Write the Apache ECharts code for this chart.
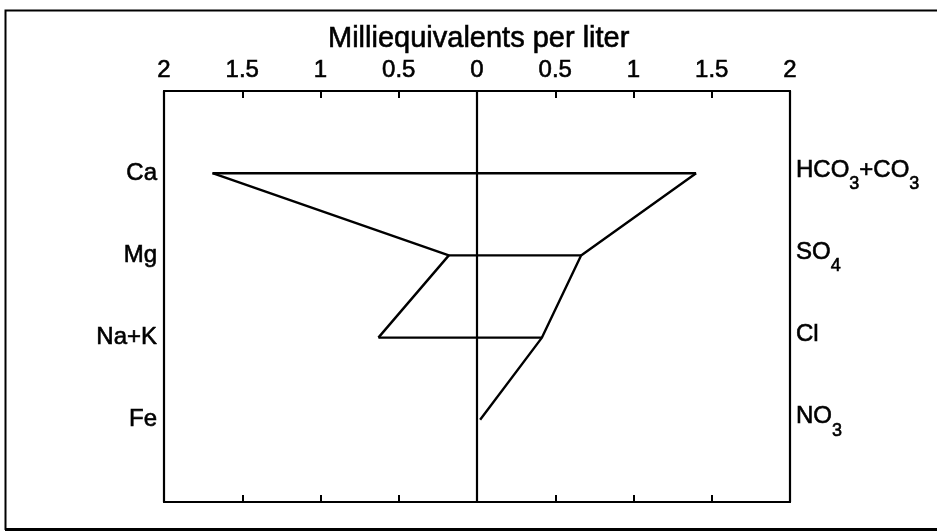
<!DOCTYPE html>
<html>
<head>
<meta charset="utf-8">
<title>Stiff diagram</title>
<script src="https://cdn.jsdelivr.net/npm/echarts@6/dist/echarts.min.js"></script>
<style>
  html, body { margin: 0; padding: 0; background: #fff; }
  #chart { width: 937px; height: 532px; }
</style>
</head>
<body>
<div id="chart"></div>
<script>
// Ion rows, top to bottom
const cationNames = ['Ca', 'Mg', 'Na+K', 'Fe'];
const anionNames = ['HCO{s|3}+CO{s|3}', 'SO{s|4}', 'Cl', 'NO{s|3}'];

// Concentrations in milliequivalents per liter (null = not plotted)
const cations = [1.69, 0.18, 0.63, null];
const anions = [1.40, 0.665, 0.415, 0.02];

// Axis range and tick step
const xMax = 2;
const xStep = 0.5;

const FONT = '"Liberation Sans", Arial, Helvetica, sans-serif';
const INK = '#000';

// slight stroke so the lettering reads as heavy as the linework
const heavy = { textBorderColor: INK, textBorderWidth: 0.6 };

const chart = echarts.init(document.getElementById('chart'), null, { renderer: 'canvas' });

const lineStyle = { color: INK, width: 2.4 };

// Cations plot to the left of zero, anions to the right
const cationPts = cations
  .map((v, i) => (v == null ? null : [-v, i + 1]))
  .filter(p => p !== null);
const anionPts = anions
  .map((v, i) => (v == null ? null : [v, i + 1]))
  .filter(p => p !== null);

const series = [
  {
    name: 'cations',
    type: 'line',
    data: cationPts,
    showSymbol: false,
    symbol: 'none',
    lineStyle: lineStyle,
    silent: true
  },
  {
    name: 'anions',
    type: 'line',
    data: anionPts,
    showSymbol: false,
    symbol: 'none',
    lineStyle: lineStyle,
    silent: true,
    markLine: {
      silent: true,
      symbol: 'none',
      label: { show: false },
      lineStyle: { color: INK, width: 2.2, type: 'solid' },
      data: [{ xAxis: 0 }]
    }
  }
];

// Horizontal connector for each row that has both ions
cations.forEach((c, i) => {
  const a = anions[i];
  if (c == null || a == null) return;
  series.push({
    name: 'row' + i,
    type: 'line',
    data: [[-c, i + 1], [a, i + 1]],
    symbol: 'none',
    lineStyle: lineStyle,
    silent: true
  });
});

const rowCount = cationNames.length;

const xAxisBase = {
  type: 'value',
  min: -xMax,
  max: xMax,
  interval: xStep,
  axisLine: { show: true, onZero: false, lineStyle: { color: INK, width: 2.2 } },
  axisTick: { show: true, inside: true, length: 7, lineStyle: { color: INK, width: 2 } },
  splitLine: { show: false }
};

const option = {
  animation: false,
  backgroundColor: '#fff',
  title: {
    text: 'Milliequivalents per liter',
    left: 323,
    top: 19,
    textStyle: Object.assign({ fontFamily: FONT, fontSize: 29, fontWeight: 'normal', color: INK }, heavy)
  },
  grid: { left: 164, top: 91, width: 626, height: 411 },
  xAxis: [
    Object.assign({}, xAxisBase, {
      position: 'top',
      axisLabel: Object.assign({
        color: INK,
        fontFamily: FONT,
        fontSize: 24,
        margin: 9,
        formatter: v => String(Math.abs(v))
      }, heavy)
    }),
    Object.assign({}, xAxisBase, {
      position: 'bottom',
      axisLabel: { show: false }
    })
  ],
  yAxis: [
    {
      type: 'value',
      position: 'left',
      inverse: true,
      min: 0,
      max: rowCount + 1,
      interval: 1,
      axisLine: { show: true, onZero: false, lineStyle: { color: INK, width: 2.2 } },
      axisTick: { show: false },
      splitLine: { show: false },
      axisLabel: Object.assign({
        color: INK,
        fontFamily: FONT,
        fontSize: 24,
        margin: 7,
        padding: [0, 0, 6, 0],
        formatter: v => cationNames[v - 1] || ''
      }, heavy)
    },
    {
      type: 'value',
      position: 'right',
      inverse: true,
      min: 0,
      max: rowCount + 1,
      interval: 1,
      axisLine: { show: true, onZero: false, lineStyle: { color: INK, width: 2.2 } },
      axisTick: { show: false },
      splitLine: { show: false },
      axisLabel: Object.assign({
        color: INK,
        fontFamily: FONT,
        fontSize: 24,
        margin: 6,
        padding: [0, 0, 6, 0],
        formatter: v => anionNames[v - 1] || '',
        rich: {
          s: Object.assign({ fontFamily: FONT, fontSize: 18, color: INK, padding: [28, 0, 0, 0] }, heavy)
        }
      }, heavy)
    }
  ],
  series: series,
  graphic: [
    {
      // open frame around the figure
      type: 'polyline',
      silent: true,
      shape: { points: [[937, 10.5], [5.5, 10.5], [5.5, 529], [937, 529]] },
      style: { stroke: INK, lineWidth: 2, fill: null }
    },
    {
      type: 'line',
      silent: true,
      shape: { x1: 5, y1: 529.5, x2: 937, y2: 529.5 },
      style: { stroke: INK, lineWidth: 3 }
    }
  ]
};

chart.setOption(option);
</script>
</body>
</html>
